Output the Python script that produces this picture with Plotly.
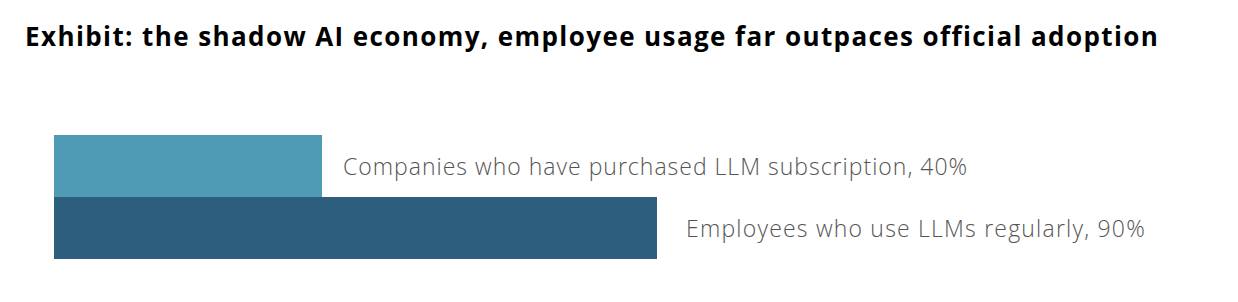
import plotly.graph_objects as go

categories = ["Companies who have purchased LLM subscription", "Employees who use LLMs regularly"]
values = [40, 90]
colors = ["#4f9ab5", "#2e5e7e"]
label_shift = [19, 27]
label_spacing = [1.0, 1.2]
title_text = "Exhibit: the shadow AI economy, employee usage far outpaces official adoption"

W, H = 1238, 302
left, right = 54, 0
px_per_unit = 6.7
xmax = (W - left - right) / px_per_unit

fig = go.Figure()
fig.add_trace(go.Bar(
    y=categories, x=values, orientation="h",
    marker=dict(color=colors, line=dict(width=0)),
    hoverinfo="skip",
))

for c, v, s, ls in zip(categories, values, label_shift, label_spacing):
    fig.add_annotation(
        x=v, y=c, xref="x", yref="y",
        text=f'<span style="letter-spacing:{ls}px">{c}, {v}%</span>',
        showarrow=False, xanchor="left", yanchor="middle", xshift=s,
        font=dict(family="Open Sans", size=23, color="#555555", weight=300),
    )

fig.update_layout(
    width=W, height=H,
    margin=dict(l=left, r=right, t=135, b=43),
    paper_bgcolor="white", plot_bgcolor="white",
    bargap=0, showlegend=False,
    title=dict(
        text=f'<span style="letter-spacing:1.4px">{title_text}</span>',
        x=25 / W, xanchor="left", y=1 - 37 / H, yanchor="middle",
        font=dict(family="Open Sans", size=26, color="#000000", weight=700),
    ),
    xaxis=dict(range=[0, xmax], visible=False, fixedrange=True),
    yaxis=dict(visible=False, autorange="reversed", fixedrange=True),
)

fig.write_html("out.html")
